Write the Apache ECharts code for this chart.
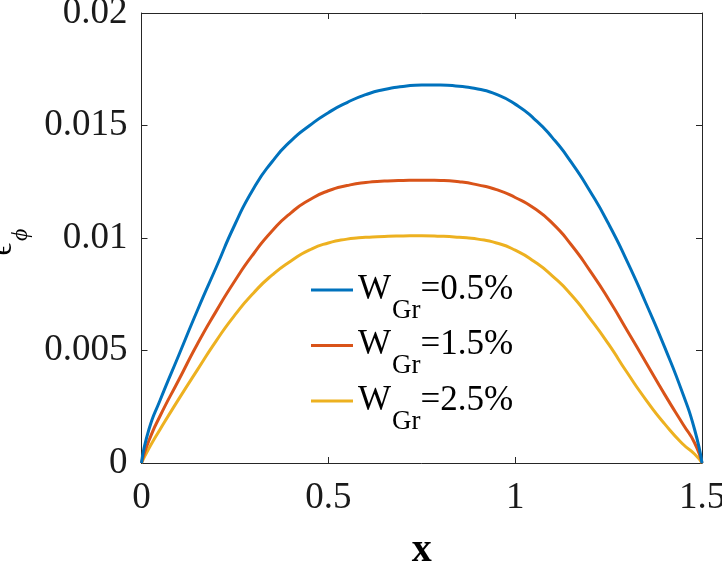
<!DOCTYPE html>
<html>
<head>
<meta charset="utf-8">
<script src="https://cdn.jsdelivr.net/npm/echarts@6/dist/echarts.min.js"></script>
<style>
html,body{margin:0;padding:0;background:#fff;}
#chart{width:722px;height:561px;}
</style>
</head>
<body>
<div id="chart"></div>
<script>
// ---- data ----
const xs = [0, 0.02, 0.05, 0.1, 0.15, 0.2, 0.25, 0.3, 0.35, 0.4, 0.45, 0.5, 0.55, 0.6, 0.65, 0.7, 0.75, 0.8, 0.85, 0.9, 0.95, 1.0, 1.05, 1.1, 1.15, 1.2, 1.25, 1.3, 1.35, 1.4, 1.45, 1.48, 1.5];
const wGr05 = [0, 0.0015, 0.0028, 0.0048, 0.0068, 0.0087, 0.0106, 0.0122, 0.0134, 0.01432, 0.0150, 0.01557, 0.01602, 0.01637, 0.0166, 0.01673, 0.0168, 0.0168, 0.01674, 0.01662, 0.01638, 0.01595, 0.01531, 0.01445, 0.01337, 0.01209, 0.01063, 0.00895, 0.0071, 0.00515, 0.00302, 0.0015, 0];
const wGr15 = [0, 0.0010, 0.0021, 0.0037, 0.0053, 0.00675, 0.0081, 0.0093, 0.01032, 0.01112, 0.0117, 0.0121, 0.01233, 0.01247, 0.01253, 0.01256, 0.01257, 0.01256, 0.0125, 0.01236, 0.01215, 0.0118, 0.01133, 0.01065, 0.0097, 0.00855, 0.00728, 0.00588, 0.00447, 0.00305, 0.0017, 0.0009, 0];
const wGr25 = [0, 0.00065, 0.0015, 0.00285, 0.00415, 0.00543, 0.00658, 0.00756, 0.00836, 0.00898, 0.00947, 0.00978, 0.00995, 0.01003, 0.01007, 0.01009, 0.0101, 0.01008, 0.01003, 0.00995, 0.00978, 0.00946, 0.00897, 0.00831, 0.00748, 0.00643, 0.00528, 0.00401, 0.00281, 0.00174, 0.00082, 0.0004, 0];
const seriesNames = ['0.5%', '1.5%', '2.5%'];
const xTicks = [0, 0.5, 1, 1.5];
const yTicks = [0, 0.005, 0.01, 0.015, 0.02];

const colors = ['#0072BD', '#D95319', '#EDB120'];
const font = '"Liberation Serif", "Times New Roman", serif';
const allY = [wGr05, wGr15, wGr25];

const chart = echarts.init(document.getElementById('chart'), null, {renderer: 'canvas'});

const axisLineStyle = {color: '#262626', width: 1};
const tickStyle = {inside: true, length: 6, lineStyle: {color: '#262626', width: 1}};

const option = {
  backgroundColor: '#fff',
  animation: false,
  color: colors,
  grid: {left: 141.5, right: 20, top: 13, bottom: 98, containLabel: false, outerBoundsMode: 'none'},
  legend: {
    orient: 'vertical',
    left: 311,
    top: 272,
    padding: 0,
    icon: 'rect',
    itemWidth: 42,
    itemHeight: 3,
    itemGap: 3.5,
    itemTextGap: 6,
    data: seriesNames.slice(),
    formatter: function (name) { return '{w|W}{s|Gr}{n|=' + name + '}'; },
    textStyle: {
      color: '#000',
      fontFamily: font,
      fontSize: 35,
      rich: {
        w: {fontSize: 35, fontFamily: font, color: '#000', lineHeight: 36, verticalAlign: 'top'},
        s: {fontSize: 27, fontFamily: font, color: '#000', lineHeight: 27, padding: [25, 0, 0, 1], verticalAlign: 'top'},
        n: {fontSize: 35, fontFamily: font, color: '#000', lineHeight: 36, verticalAlign: 'top'}
      }
    }
  },
  xAxis: [{
    type: 'value',
    min: xTicks[0], max: xTicks[xTicks.length - 1],
    interval: xTicks[1] - xTicks[0],
    position: 'bottom',
    name: 'x',
    nameLocation: 'middle',
    nameGap: 68,
    nameTextStyle: {fontFamily: font, fontSize: 40, fontWeight: 'bold', color: '#000'},
    axisLine: {show: true, onZero: false, lineStyle: axisLineStyle},
    axisTick: tickStyle,
    splitLine: {show: false},
    axisLabel: {fontFamily: font, fontSize: 37, color: '#1a1a1a', margin: 17,
      formatter: v => String(v)}
  }, {
    type: 'value',
    min: xTicks[0], max: xTicks[xTicks.length - 1],
    interval: xTicks[1] - xTicks[0],
    position: 'top',
    axisLine: {show: true, onZero: false, lineStyle: axisLineStyle},
    axisTick: tickStyle,
    axisLabel: {show: false},
    splitLine: {show: false}
  }],
  yAxis: [{
    type: 'value',
    min: yTicks[0], max: yTicks[yTicks.length - 1],
    interval: yTicks[1] - yTicks[0],
    position: 'left',
    name: '{e|ϵ}{p|ϕ}',
    nameLocation: 'middle',
    nameRotate: 90,
    nameGap: 124,
    nameTextStyle: {
      fontFamily: font, color: '#000',
      padding: [0, 8, 0, 0],
      rich: {
        e: {fontSize: 31, fontFamily: font, color: '#000', lineHeight: 30, verticalAlign: 'top'},
        p: {fontSize: 24, fontFamily: font, color: '#000', fontStyle: 'italic', lineHeight: 24, padding: [21, 0, 0, 2], verticalAlign: 'top'}
      }
    },
    axisLine: {show: true, onZero: false, lineStyle: axisLineStyle},
    axisTick: tickStyle,
    splitLine: {show: false},
    axisLabel: {fontFamily: font, fontSize: 37, color: '#1a1a1a', margin: 14,
      formatter: v => String(v)}
  }, {
    type: 'value',
    min: yTicks[0], max: yTicks[yTicks.length - 1],
    interval: yTicks[1] - yTicks[0],
    position: 'right',
    axisLine: {show: true, onZero: false, lineStyle: axisLineStyle},
    axisTick: tickStyle,
    axisLabel: {show: false},
    splitLine: {show: false}
  }],
  series: allY.map((ys, i) => ({
    name: seriesNames[i],
    type: 'line',
    xAxisIndex: 0,
    yAxisIndex: 0,
    data: xs.map((x, k) => [x, ys[k]]),
    showSymbol: false,
    symbol: 'none',
    smooth: 0.6,
    lineStyle: {width: 3, color: colors[i]},
    itemStyle: {color: colors[i]},
    z: 3 - i
  }))
};
chart.setOption(option);
</script>
</body>
</html>
